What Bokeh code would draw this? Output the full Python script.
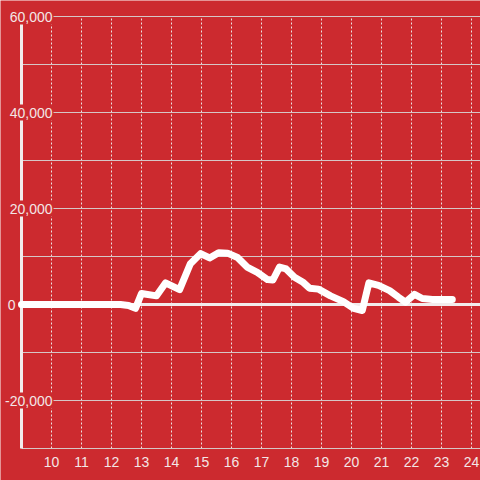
from bokeh.plotting import figure
from bokeh.models import Range1d, FixedTicker, Label, Grid
from bokeh.embed import file_html
from bokeh.resources import INLINE

# ---- data ----
hours = [9.0, 12.3, 12.57, 12.8, 13.0, 13.5, 13.8, 14.27, 14.63, 14.97, 15.27,
         15.57, 15.87, 16.2, 16.52, 16.86, 17.2, 17.38, 17.6, 17.82, 18.1,
         18.37, 18.6, 18.9, 19.3, 19.73, 20.07, 20.36, 20.58, 20.9, 21.27,
         21.57, 21.8, 22.1, 22.36, 22.7, 23.36]
values = [0, 0, -200, -800, 2300, 1800, 4500, 3100, 8500, 10600, 9700,
          10800, 10700, 9800, 7800, 6700, 5200, 5100, 7800, 7400, 5700,
          4700, 3400, 3200, 1800, 600, -800, -1250, 4500, 4000, 2900,
          1500, 500, 2100, 1250, 1050, 1050]

x_ticks = list(range(10, 25))
x_tick_labels = [str(t) for t in x_ticks]
y_label_ticks = [-20000, 0, 20000, 40000, 60000]
y_label_text = ["-20,000", "0", "20,000", "40,000", "60,000"]
y_grid_ticks = list(range(-30000, 60001, 10000))

X_MIN, X_MAX = 9.0, 24.3
Y_MIN, Y_MAX = -30000, 60000
PX_X = 1 / 30.0          # data units per pixel, x
PX_Y = 10000 / 48.0      # data units per pixel, y

BG = "#cc2a2f"
TXT = "#f3e6e6"
GRID = "#d6c6c6"
AXIS = "#f2ecec"
FONT = "Liberation Sans"

# frame covers the whole canvas (no border strips)
p = figure(width=480, height=480,
           x_range=Range1d(X_MIN - 21 * PX_X, X_MAX),
           y_range=Range1d(Y_MIN - 32 * PX_Y, Y_MAX + 16 * PX_Y),
           output_backend="svg", toolbar_location=None,
           min_border=0, min_border_left=0, min_border_right=0,
           min_border_top=0, min_border_bottom=0,
           background_fill_color=BG, border_fill_color=BG,
           outline_line_color=None)
p.xaxis.visible = False
p.yaxis.visible = False

# grids limited to the chart area
p.ygrid.ticker = FixedTicker(ticks=y_grid_ticks)
p.ygrid.cross_bounds = (X_MIN, X_MAX + 1)
p.ygrid.grid_line_color = GRID
p.ygrid.grid_line_width = 1
p.xgrid.ticker = FixedTicker(ticks=x_ticks)
p.xgrid.cross_bounds = (Y_MIN, Y_MAX)
p.xgrid.grid_line_color = "#ece2e2"
p.xgrid.grid_line_dash = "2 2"
p.xgrid.grid_line_width = 1

# zero line
p.add_layout(Grid(dimension=1, ticker=FixedTicker(ticks=[0]),
                  cross_bounds=(X_MIN, X_MAX + 1),
                  grid_line_color=AXIS, grid_line_width=3))
# y axis line
p.add_layout(Grid(dimension=0, ticker=FixedTicker(ticks=[X_MIN]),
                  cross_bounds=(Y_MIN, Y_MAX),
                  grid_line_color=AXIS, grid_line_width=3))

# backgrounds behind the y tick labels (they break the axis and grid lines)
def text_px(s):
    w = {",": 3.9, "-": 4.7}
    return sum(w.get(c, 7.8) for c in s)

y_offsets = [31 if t != 0 else -6 for t in y_label_ticks]
bg_w = [text_px(s) + 4 for s in y_label_text]
bg_x = [X_MIN + (off + 1 - w / 2) * PX_X for off, w in zip(y_offsets, bg_w)]
p.rect(x=bg_x, y=y_label_ticks, width=bg_w, height=[16] * len(bg_w),
       width_units="screen", height_units="screen",
       fill_color=BG, line_color=None)

# series
p.line(hours, values, line_color="white", line_width=7,
       line_join="round", line_cap="round")

# y tick labels
for t, txt, off in zip(y_label_ticks, y_label_text, y_offsets):
    p.add_layout(Label(x=X_MIN, y=t, text=txt, x_offset=off,
                       text_align="right", text_baseline="middle",
                       text_font=FONT, text_font_size="14px", text_color=TXT))

# x tick labels
for t, txt in zip(x_ticks, x_tick_labels):
    p.add_layout(Label(x=t, y=Y_MIN, text=txt, y_offset=-13,
                       text_align="center", text_baseline="middle",
                       text_font=FONT, text_font_size="14px", text_color=TXT))

open("out.html", "w").write(file_html(p, INLINE))
